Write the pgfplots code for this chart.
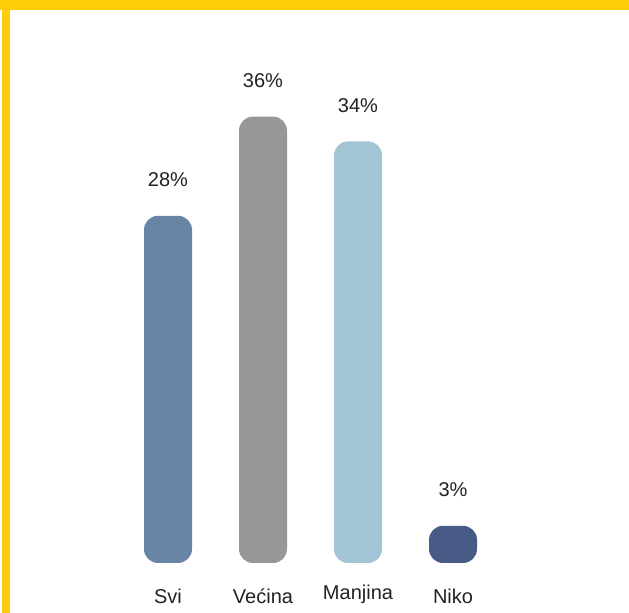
\documentclass[border=0pt]{standalone}
\usepackage{pgfplots}
\pgfplotsset{compat=1.18}
\usepackage{fontspec}
\setmainfont{Liberation Sans}
\definecolor{ybord}{HTML}{FFCC0A}
\definecolor{csvi}{HTML}{6A84A6}
\definecolor{cvec}{HTML}{979797}
\definecolor{cman}{HTML}{A3C4D4}
\definecolor{cnik}{HTML}{485B87}
\definecolor{txt}{HTML}{222222}
\begin{document}
\begin{tikzpicture}[x=1bp,y=1bp]
\useasboundingbox (0,0) rectangle (629,613);
\fill[white] (0,0) rectangle (629,613);
\fill[ybord] (0,603) rectangle (629,613);
\fill[ybord] (2,0) rectangle (10,613);
\begin{axis}[
  at={(73bp,50bp)}, anchor=south west,
  scale only axis, width=475bp, height=496bp,
  xmin=-1, xmax=4, ymin=0, ymax=40,
  clip=false,
  axis line style={draw=none},
  major tick length=0pt,
  ytick=\empty,
  xtick={0,1,2,3},
  xticklabels={Svi,Većina,\raisebox{4bp}{Manjina},Niko},
  xticklabel style={anchor=base, yshift=-40bp, font=\fontsize{20bp}{24bp}\selectfont, text=txt},
  point meta=explicit symbolic,
  nodes near coords,
  every node near coord/.append style={anchor=base, yshift=29bp, font=\fontsize{20bp}{24bp}\selectfont, text=txt},
  every axis plot/.append style={ybar, bar width=48bp, bar shift=0pt, draw=none, rounded corners=14bp},
]
\addplot[fill=csvi] coordinates {(0,28) [28\%]};
\addplot[fill=cvec] coordinates {(1,36) [36\%]};
\addplot[fill=cman] coordinates {(2,34) [34\%]};
\addplot[fill=cnik] coordinates {(3,3) [3\%]};
\end{axis}
\end{tikzpicture}
\end{document}
